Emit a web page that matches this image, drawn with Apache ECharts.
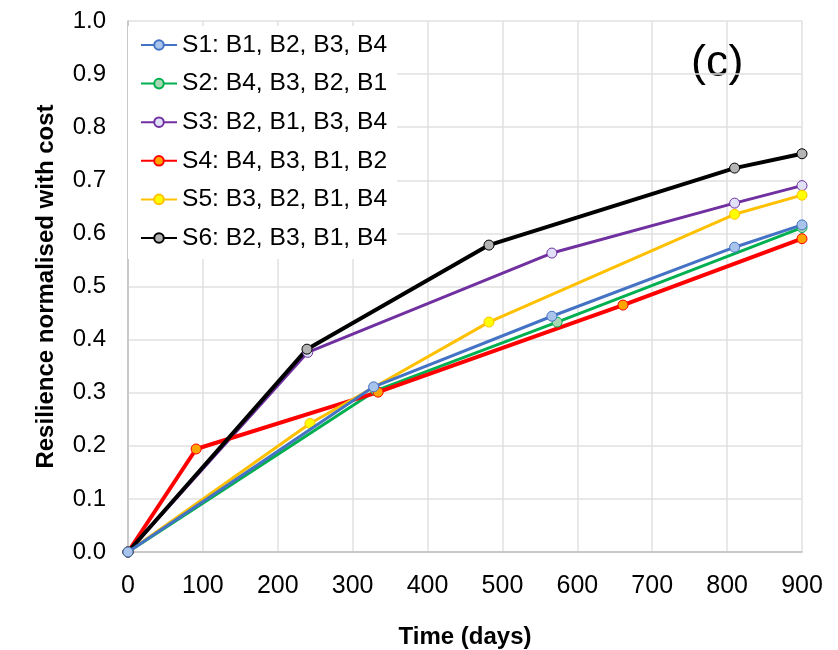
<!DOCTYPE html>
<html>
<head>
<meta charset="utf-8">
<script src="https://cdn.jsdelivr.net/npm/echarts@6/dist/echarts.min.js"></script>
<style>html,body{margin:0;padding:0;background:#fff;}#c{width:838px;height:650px;}</style>
</head>
<body>
<div id="c"></div>
<script>
const seriesNames = ['S1: B1, B2, B3, B4','S2: B4, B3, B2, B1','S3: B2, B1, B3, B4','S4: B4, B3, B1, B2','S5: B3, B2, B1, B4','S6: B2, B3, B1, B4'];
const s1 = [[0,0],[328,0.311],[566,0.444],[810,0.574],[900,0.616]];
const s2 = [[0,0],[331,0.304],[573,0.433],[900,0.611]];
const s3 = [[0,0],[240,0.376],[566,0.563],[810,0.657],[900,0.690]];
const s4 = [[0,0],[91,0.194],[334,0.301],[661,0.465],[900,0.590]];
const s5 = [[0,0],[243,0.242],[482,0.433],[810,0.636],[900,0.672]];
const s6 = [[0,0],[239,0.382],[482,0.578],[810,0.723],[900,0.750]];
const xTicks = {min:0,max:900,interval:100};
const yTicks = {min:0,max:1,interval:0.1};
const lineColors = ['#4472c4','#00b050','#7030a0','#ff0000','#ffc000','#000000'];
const fillColors = ['#a9c4eb','#a9d8b4','#e0e0f8','#ffa500','#ffff00','#b4b4b4'];
const lineWidths = [3,3,3,4,3,4];
const allData = [s1,s2,s3,s4,s5,s6];

const font = "'Liberation Sans', Arial, sans-serif";
const chart = echarts.init(document.getElementById('c'));
chart.setOption({
  animation:false,
  backgroundColor:'#fff',
  grid:{left:128,right:36,top:21,bottom:98,containLabel:false,outerBoundsMode:'none'},
  legend:{
    orient:'vertical', left:128, top:26,
    backgroundColor:'#fff',
    padding:[6,10,8,12],
    itemWidth:36, itemHeight:12,
    itemGap:12.6,
    textStyle:{fontFamily:font,fontSize:24.6,color:'#000',lineHeight:26},
    data:seriesNames
  },
  graphic:[{type:'text',left:691,top:41,style:{text:'(c)',fontFamily:font,fontSize:45,fill:'#000'}}],
  xAxis:{
    type:'value', min:xTicks.min, max:xTicks.max, interval:xTicks.interval,
    name:'Time (days)', nameLocation:'middle', nameGap:73,
    nameTextStyle:{fontFamily:font,fontSize:24,fontWeight:'bold',color:'#000'},
    axisLine:{show:true,lineStyle:{color:'#bfbfbf',width:1.5}},
    axisTick:{show:false},
    axisLabel:{fontFamily:font,fontSize:25,color:'#000',margin:22},
    splitLine:{show:true,lineStyle:{color:'#e0e0e0',width:1.5}}
  },
  yAxis:{
    type:'value', min:yTicks.min, max:yTicks.max, interval:yTicks.interval,
    name:'Resilience normalised with cost', nameLocation:'middle', nameGap:70,
    nameTextStyle:{fontFamily:font,fontSize:24,fontWeight:'bold',color:'#000'},
    axisLine:{show:true,lineStyle:{color:'#bfbfbf',width:1.5}},
    axisTick:{show:false},
    axisLabel:{fontFamily:font,fontSize:24,color:'#000',margin:22,formatter:v=>v.toFixed(1)},
    splitLine:{show:true,lineStyle:{color:'#e0e0e0',width:1.5}}
  },
  series: allData.map((d,i)=>({
    name:seriesNames[i], type:'line', data:d,
    symbol:'circle', symbolSize:10, showSymbol:true,
    z: i===0 ? 4 : 3,
    lineStyle:{color:lineColors[i],width:lineWidths[i]},
    itemStyle:{color:fillColors[i],borderColor:lineColors[i],borderWidth:1},
    emphasis:{disabled:true}
  }))
});
</script>
</body>
</html>
